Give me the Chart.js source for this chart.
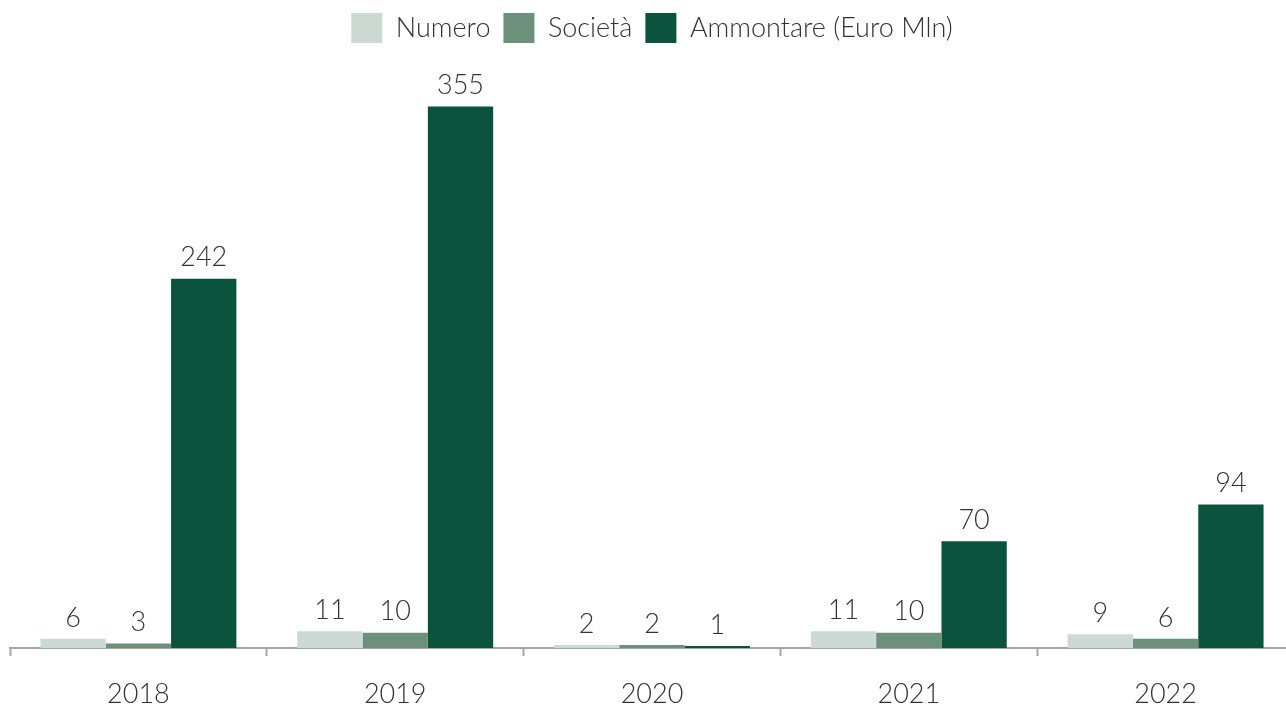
<!DOCTYPE html>
<html>
<head>
<meta charset="utf-8">
<script src="https://cdn.jsdelivr.net/npm/chart.js@4/dist/chart.umd.min.js"></script>
<style>
  html, body { margin: 0; padding: 0; background: #fff; overflow: hidden; }
  #wrap { width: 1294px; height: 709px; }
</style>
</head>
<body>
<div id="wrap"><canvas id="chart"></canvas></div>
<script>
const years = ["2018", "2019", "2020", "2021", "2022"];
const numero = [6, 11, 2, 11, 9];
const societa = [3, 10, 2, 10, 6];
const ammontare = [242, 355, 1, 70, 94];

const FONT = "Lato, 'Open Sans', sans-serif";

// draws the value above each bar
const valueLabels = {
  id: "valueLabels",
  afterDatasetsDraw(chart) {
    const ctx = chart.ctx;
    ctx.save();
    ctx.font = `300 27px ${FONT}`;
    ctx.fillStyle = "#333";
    ctx.textAlign = "center";
    ctx.textBaseline = "middle";
    chart.data.datasets.forEach((ds, i) => {
      const meta = chart.getDatasetMeta(i);
      meta.data.forEach((bar, j) => {
        ctx.fillText(ds.data[j], bar.x, bar.y - 21);
      });
    });
    ctx.restore();
  },
};

new Chart(document.getElementById("chart"), {
  type: "bar",
  data: {
    labels: years,
    datasets: [
      { label: "Numero", data: numero, backgroundColor: "#ccdad3" },
      { label: "Società", data: societa, backgroundColor: "#6b917d" },
      { label: "Ammontare (Euro Mln)", data: ammontare, backgroundColor: "#0c533e" },
    ],
  },
  options: {
    responsive: true,
    maintainAspectRatio: false,
    animation: false,
    layout: { padding: { left: 10, right: 0, top: 0, bottom: 0 } },
    datasets: {
      bar: { categoryPercentage: 0.763, barPercentage: 1.0, minBarLength: 2 },
    },
    plugins: {
      legend: {
        display: true,
        position: "top",
        labels: {
          boxWidth: 31,
          boxHeight: 30,
          padding: 13,
          color: "#333",
          font: { family: FONT, size: 27, weight: "300" },
        },
      },
      tooltip: { enabled: false },
    },
    scales: {
      x: {
        afterFit: (axis) => { axis.height = 61; },
        grid: {
          display: true,
          drawOnChartArea: false,
          drawTicks: true,
          tickLength: 8,
          tickColor: "#a6a6a6",
          tickWidth: 2,
        },
        border: { display: true, color: "#a6a6a6", width: 2 },
        ticks: {
          color: "#333",
          padding: 22,
          font: { family: FONT, size: 27, weight: "300" },
        },
      },
      y: {
        display: false,
        min: 0,
        max: 390,
      },
    },
  },
  plugins: [valueLabels],
});
</script>
</body>
</html>
